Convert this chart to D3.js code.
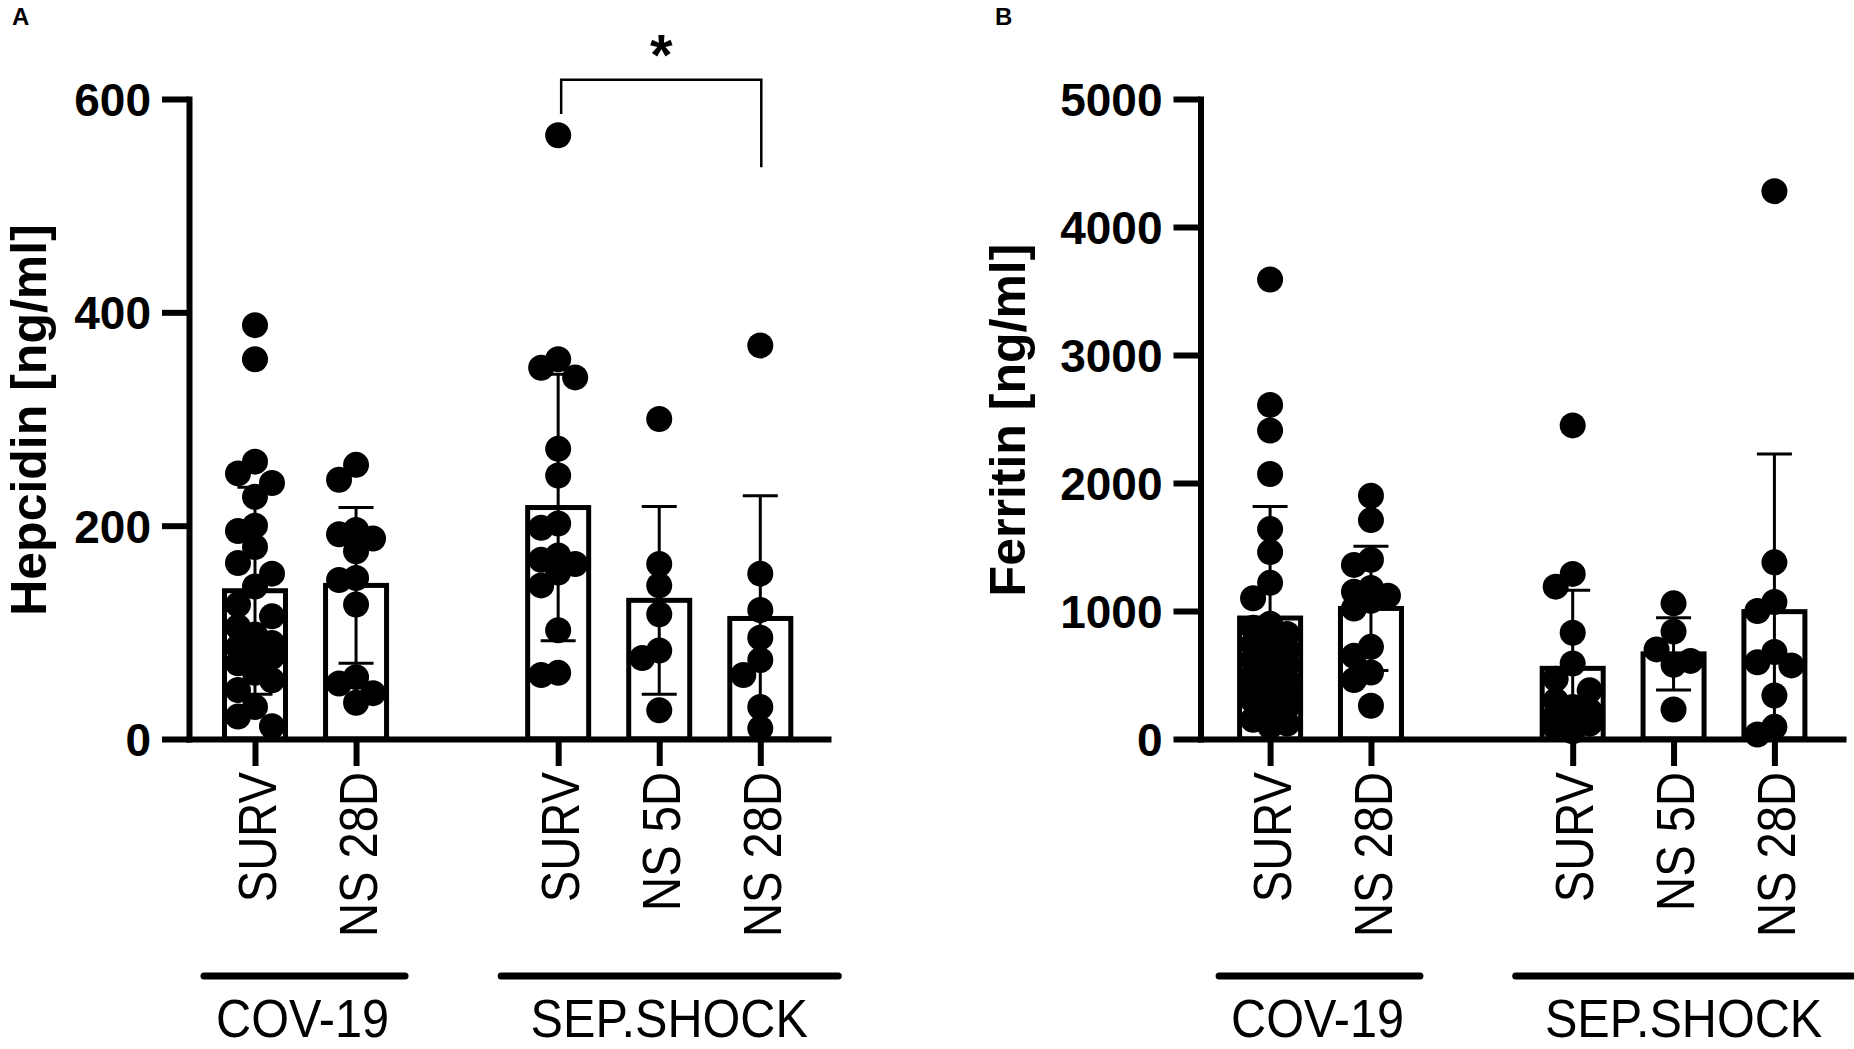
<!DOCTYPE html>
<html>
<head>
<meta charset="utf-8">
<script src="https://cdn.jsdelivr.net/npm/d3@7"></script>
<style>
  html, body { margin: 0; padding: 0; background: #fff; }
  svg { display: block; }
</style>
</head>
<body>
<svg id="chart" width="1854" height="1049"></svg>
<script>
// ---------------- DATA ----------------
const categories = ["SURV", "NS 28D", "SURV", "NS 5D", "NS 28D"];
const categorySlots = [0, 1, 3, 4, 5];
const groups = ["COV-19", "SEP.SHOCK"];

const hepcidinTicks = [0, 200, 400, 600];
const ferritinTicks = [0, 1000, 2000, 3000, 4000, 5000];

// Hepcidin [ng/ml] individual points
const hepcidinCovSurv = [388, 356, 260, 249, 240, 227, 200, 195, 180, 165, 155, 143, 126, 115, 105, 98, 90, 86, 80, 77, 71, 62, 55, 46, 30, 21, 12];
const hepcidinCovNs28 = [257, 243, 196, 192, 188, 176, 151, 149, 126, 58, 52, 43, 34];
const hepcidinSepSurv = [566, 356, 348, 339, 272, 247, 202, 198, 172, 168, 164, 156, 144, 102, 62, 60];
const hepcidinSepNs5  = [300, 164, 144, 117, 83, 76, 27];
const hepcidinSepNs28 = [369, 155, 121, 95, 74, 60, 30, 10];
const hepcidinMean = [139, 144, 217, 130, 113];
const hepcidinSD   = [97, 73, 125, 88, 115];

// Ferritin [ng/ml] individual points
const ferritinCovSurv = [3590, 2610, 2410, 2070, 1640, 1460, 1220, 1100, 900, 870, 820, 800, 740, 700, 660, 620, 580, 560, 500, 460, 420, 400, 350, 330, 300, 250, 200, 150, 120, 100];
const ferritinCovNs28 = [1900, 1710, 1400, 1360, 1180, 1150, 1120, 1080, 1020, 720, 650, 520, 460, 260];
const ferritinSepSurv = [2450, 1290, 1190, 830, 590, 470, 380, 300, 250, 220, 180, 150, 120, 90, 60];
const ferritinSepNs5  = [1060, 840, 700, 610, 580, 230];
const ferritinSepNs28 = [4280, 1380, 1070, 1000, 680, 600, 575, 340, 95, 35];
const ferritinMean = [945, 1020, 552, 665, 995];
const ferritinSD   = [872, 485, 610, 283, 1232];

// significance bracket (panel A, SURV vs NS 28D of SEP.SHOCK)
const sigFrom = 2, sigTo = 4;          // indices into categories
const sigLevels = [586, 618, 536];     // left end, top, right end (data units)
const sigLabel = "*";

// ---------------- DRAWING ----------------
const svg = d3.select("#chart");
const FONT = "'Liberation Sans', Arial, Helvetica, sans-serif";

function swarmOffsets(values, y, step, minDist) {
  const order = values.map((v, i) => i).sort((a, b) => values[b] - values[a]);
  const placed = [];
  const offs = new Array(values.length).fill(0);
  const cands = [0, -1, 1];
  order.forEach(i => {
    const py = y(values[i]);
    let best = 0, bestScore = -1;
    for (const k of cands) {
      const dx = k * step;
      let near = Infinity;
      placed.forEach(p => { near = Math.min(near, Math.hypot(p.dx - dx, p.y - py)); });
      if (near >= minDist) { best = dx; bestScore = Infinity; break; }
      if (near > bestScore) { bestScore = near; best = dx; }
    }
    offs[i] = best;
    placed.push({dx: best, y: py});
  });
  return offs;
}

function drawPanel(cfg) {
  const g = svg.append("g");
  const x = d3.scaleLinear().domain(cfg.slotDomain).range([cfg.axisX, cfg.axisRight]);
  const y = d3.scaleLinear().domain([0, cfg.ticks[cfg.ticks.length - 1]]).range([739, 99]);

  // bars
  const barW = 61;
  g.selectAll("rect.bar").data(cfg.means).join("rect")
    .attr("x", (d, i) => x(categorySlots[i]) - barW / 2)
    .attr("y", d => y(d))
    .attr("width", barW)
    .attr("height", d => y(0) - y(d))
    .attr("fill", "#fff").attr("stroke", "#000").attr("stroke-width", 5);

  // error bars
  cfg.means.forEach((m, i) => {
    const cx = x(categorySlots[i]);
    const hi = m + cfg.sd[i], lo = m - cfg.sd[i];
    const yLo = lo > 0 ? y(lo) : y(0);
    g.append("line").attr("x1", cx).attr("x2", cx).attr("y1", y(hi)).attr("y2", yLo)
      .attr("stroke", "#000").attr("stroke-width", 3);
    g.append("line").attr("x1", cx - 17.5).attr("x2", cx + 17.5).attr("y1", y(hi)).attr("y2", y(hi))
      .attr("stroke", "#000").attr("stroke-width", 3);
    if (lo > 0) {
      g.append("line").attr("x1", cx - 17.5).attr("x2", cx + 17.5).attr("y1", y(lo)).attr("y2", y(lo))
        .attr("stroke", "#000").attr("stroke-width", 3);
    }
  });

  // dots
  cfg.points.forEach((vals, i) => {
    const cx = x(categorySlots[i]);
    const offs = swarmOffsets(vals, y, 17, 21);
    g.selectAll(null).data(vals).join("circle")
      .attr("cx", (d, j) => cx + offs[j])
      .attr("cy", d => y(d))
      .attr("r", 13)
      .attr("fill", "#000");
  });

  // y axis
  const ya = g.append("g").attr("transform", `translate(${cfg.axisX},0)`)
    .call(d3.axisLeft(y).tickValues(cfg.ticks).tickSize(27).tickSizeOuter(0).tickPadding(11)
      .tickFormat(d3.format("d")));
  ya.select(".domain").attr("stroke", "#000").attr("stroke-width", 6).attr("stroke-linecap", "square");
  ya.selectAll(".tick line").attr("stroke", "#000").attr("stroke-width", 6);
  ya.selectAll(".tick text").attr("font-family", FONT).attr("font-size", 46)
    .attr("font-weight", "bold").attr("fill", "#000").attr("dy", "0.36em");

  // x axis
  const xa = g.append("g").attr("transform", `translate(0,${y(0)})`)
    .call(d3.axisBottom(x).tickValues(categorySlots).tickSize(27).tickSizeOuter(0)
      .tickFormat((d, i) => categories[i]));
  xa.select(".domain").attr("stroke", "#000").attr("stroke-width", 6).attr("stroke-linecap", "square");
  xa.selectAll(".tick line").attr("stroke", "#000").attr("stroke-width", 6);
  xa.selectAll(".tick text")
    .attr("font-family", FONT).attr("font-size", 53).attr("font-weight", "normal").attr("fill", "#000")
    .attr("x", 0).attr("y", 0).attr("dy", "0.38em")
    .attr("text-anchor", "end")
    .attr("transform", "translate(0,33) rotate(-90) scale(0.89,1)");

  // group underlines + labels
  const grpDefs = [
    {label: groups[0], x1: x(0) - 51, x2: x(1) + 49, tx: x(0.5) - 3},
    {label: groups[1], x1: x(3) - 57, x2: x(5) + 78, tx: x(4) + 10}
  ];
  grpDefs.forEach(gd => {
    g.append("line").attr("x1", gd.x1).attr("x2", gd.x2).attr("y1", 976).attr("y2", 976)
      .attr("stroke", "#000").attr("stroke-width", 7).attr("stroke-linecap", "round");
    g.append("text").attr("transform", `translate(${gd.tx},1037) scale(0.9,1)`)
      .attr("text-anchor", "middle").attr("font-family", FONT).attr("font-size", 54)
      .attr("fill", "#000").text(gd.label);
  });

  // axis title
  g.append("text")
    .attr("transform", `translate(${cfg.titleX},420) rotate(-90)`)
    .attr("text-anchor", "middle").attr("font-family", FONT).attr("font-weight", "bold")
    .attr("font-size", 50).attr("fill", "#000").text(cfg.title);

  // panel letter
  g.append("text").attr("x", cfg.letterX).attr("y", 25)
    .attr("font-family", FONT).attr("font-weight", "bold").attr("font-size", 24)
    .attr("fill", "#000").text(cfg.letter);

  return {g, x, y};
}

const A = drawPanel({
  letter: "A", letterX: 12,
  title: "Hepcidin [ng/ml]", titleX: 46,
  axisX: 189, axisRight: 828, slotDomain: [-0.653, 5.67],
  ticks: hepcidinTicks,
  means: hepcidinMean, sd: hepcidinSD,
  points: [hepcidinCovSurv, hepcidinCovNs28, hepcidinSepSurv, hepcidinSepNs5, hepcidinSepNs28]
});

drawPanel({
  letter: "B", letterX: 995,
  title: "Ferritin [ng/ml]", titleX: 1025,
  axisX: 1200.5, axisRight: 1843, slotDomain: [-0.69, 5.68],
  ticks: ferritinTicks,
  means: ferritinMean, sd: ferritinSD,
  points: [ferritinCovSurv, ferritinCovNs28, ferritinSepSurv, ferritinSepNs5, ferritinSepNs28]
});

// significance bracket on panel A
{
  const xl = A.x(categorySlots[sigFrom]) + 3, xr = A.x(categorySlots[sigTo]) + 1;
  const path = d3.path();
  path.moveTo(xl, A.y(sigLevels[0]));
  path.lineTo(xl, A.y(sigLevels[1]));
  path.lineTo(xr, A.y(sigLevels[1]));
  path.lineTo(xr, A.y(sigLevels[2]));
  A.g.append("path").attr("d", path.toString()).attr("fill", "none")
    .attr("stroke", "#000").attr("stroke-width", 2.5);
  A.g.append("text").attr("x", (xl + xr) / 2).attr("y", 75)
    .attr("text-anchor", "middle").attr("font-family", FONT).attr("font-weight", "bold")
    .attr("font-size", 58).attr("fill", "#000").text(sigLabel);
}
</script>
</body>
</html>
